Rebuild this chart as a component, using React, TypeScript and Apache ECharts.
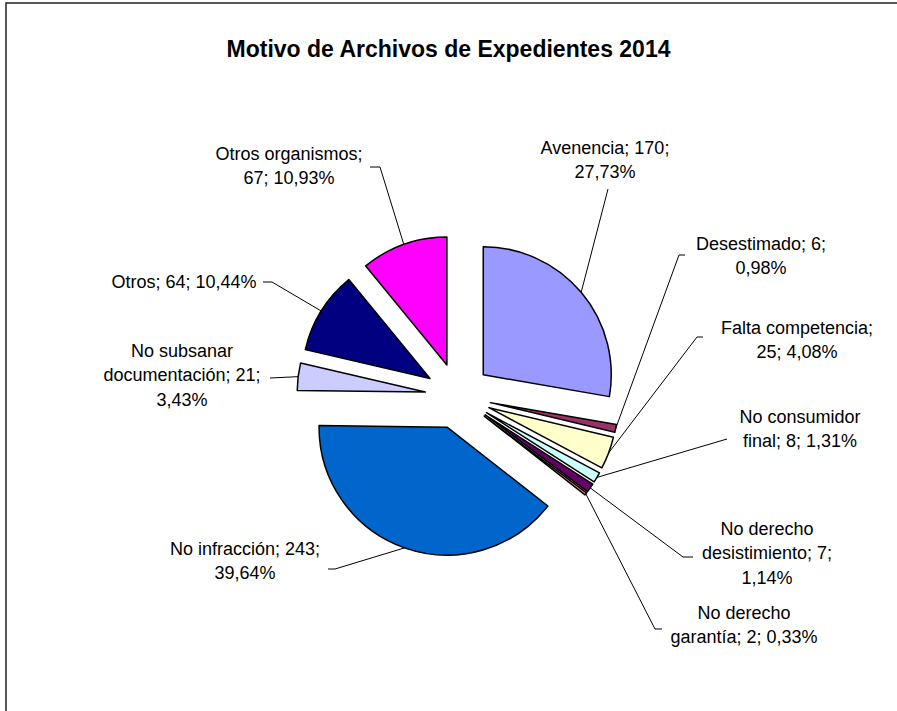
import React, { useEffect, useRef } from 'react';
import * as echarts from 'echarts';

const titleText = 'Motivo de Archivos de Expedientes 2014';
const categories = [
  'Avenencia',
  'Desestimado',
  'Falta competencia',
  'No consumidor final',
  'No derecho desistimiento',
  'No derecho garantía',
  'No infracción',
  'No subsanar documentación',
  'Otros',
  'Otros organismos',
];
const values = [170, 6, 25, 8, 7, 2, 243, 21, 64, 67];
const colors = ['#9999FF', '#993366', '#FFFFCC', '#CCFFFF', '#660066', '#FF8080', '#0066CC', '#CCCCFF', '#000080', '#FF00FF'];
// word indices after which each label wraps
const labelBreaks = [[1], [1], [1], [1], [1, 3], [1], [2], [1, 3], [], [1]];

// layout only: label centres, leader anchor on label, horizontal tick length
const labelPos = [
  [605, 160], [761, 256], [797, 340], [800, 429], [767, 553],
  [744, 625], [245, 561], [182, 375], [184, 282], [289, 166],
];
const leaderAnchor = [
  [608, 189], [685, 255], [703, 337], [727, 439], [693, 557],
  [662, 629], [328, 569], [270, 378], [263, 282], [370, 167],
];
const leaderTick = [0, -6, -6, 0, -10, -7, 7, 0, 9, 10];

const CX = 458;
const CY = 396;
const R = 128;
const EXPLODE = 33;

const total = values.reduce((a, b) => a + b, 0);

function labelText(i: number): string {
  const pct = ((values[i] / total) * 100).toFixed(2).replace('.', ',');
  const tokens = `${categories[i]}; ${values[i]}; ${pct}%`.split(' ');
  let s = '';
  tokens.forEach((t, k) => {
    s += t;
    if (k < tokens.length - 1) s += labelBreaks[i].includes(k) ? '\n' : ' ';
  });
  return s;
}

function arcMidPoint(i: number): [number, number] {
  let before = 0;
  for (let k = 0; k < i; k++) before += values[k];
  const mid = ((before + values[i] / 2) / total) * Math.PI * 2;
  const d = EXPLODE + R;
  return [CX + Math.sin(mid) * d, CY - Math.cos(mid) * d];
}

export default function App() {
  const ref = useRef<HTMLDivElement>(null);
  useEffect(() => {
    const chart = echarts.init(ref.current!, null, { renderer: 'svg' });
    const labelFont = { fontFamily: 'Liberation Sans', fontSize: 18 };
    const leaders = categories.map((_, i) => {
      const [ax, ay] = leaderAnchor[i];
      const pts = [arcMidPoint(i)];
      if (leaderTick[i] !== 0) pts.push([ax + leaderTick[i], ay]);
      pts.push([ax, ay]);
      return {
        type: 'polyline',
        silent: true,
        shape: { points: pts },
        style: { stroke: '#000', lineWidth: 1, fill: 'none' },
      };
    });
    const texts = categories.map((_, i) => ({
      type: 'text',
      silent: true,
      x: labelPos[i][0],
      y: labelPos[i][1],
      style: {
        text: labelText(i),
        ...labelFont,
        fill: '#000',
        lineHeight: 24.5,
        align: 'center',
        verticalAlign: 'middle',
      },
    }));
    chart.setOption({
      animation: false,
      backgroundColor: '#fff',
      title: {
        text: titleText,
        left: 'center',
        top: 32,
        textStyle: { fontFamily: 'Liberation Sans', fontSize: 23, fontWeight: 'bold', color: '#000' },
      },
      graphic: [
        {
          type: 'rect',
          silent: true,
          shape: { x: 6, y: 3, width: 1000, height: 1000 },
          style: { fill: 'none', stroke: '#222', lineWidth: 1.5 },
        },
        ...leaders,
        ...texts,
      ],
      series: [
        {
          type: 'pie',
          center: [CX, CY],
          radius: [0, R],
          startAngle: 90,
          clockwise: true,
          avoidLabelOverlap: false,
          selectedMode: 'multiple',
          selectedOffset: EXPLODE,
          emphasis: { disabled: true },
          itemStyle: { borderColor: '#000', borderWidth: 1.5 },
          select: { itemStyle: { borderColor: '#000', borderWidth: 1.5 } },
          label: { show: false },
          labelLine: { show: false },
          data: categories.map((name, i) => ({
            name,
            value: values[i],
            selected: true,
            itemStyle: { color: colors[i] },
          })),
        },
      ],
    });
    return () => chart.dispose();
  }, []);
  return <div ref={ref} style={{ position: 'fixed', left: 0, top: 0, width: 897, height: 711 }} />;
}
